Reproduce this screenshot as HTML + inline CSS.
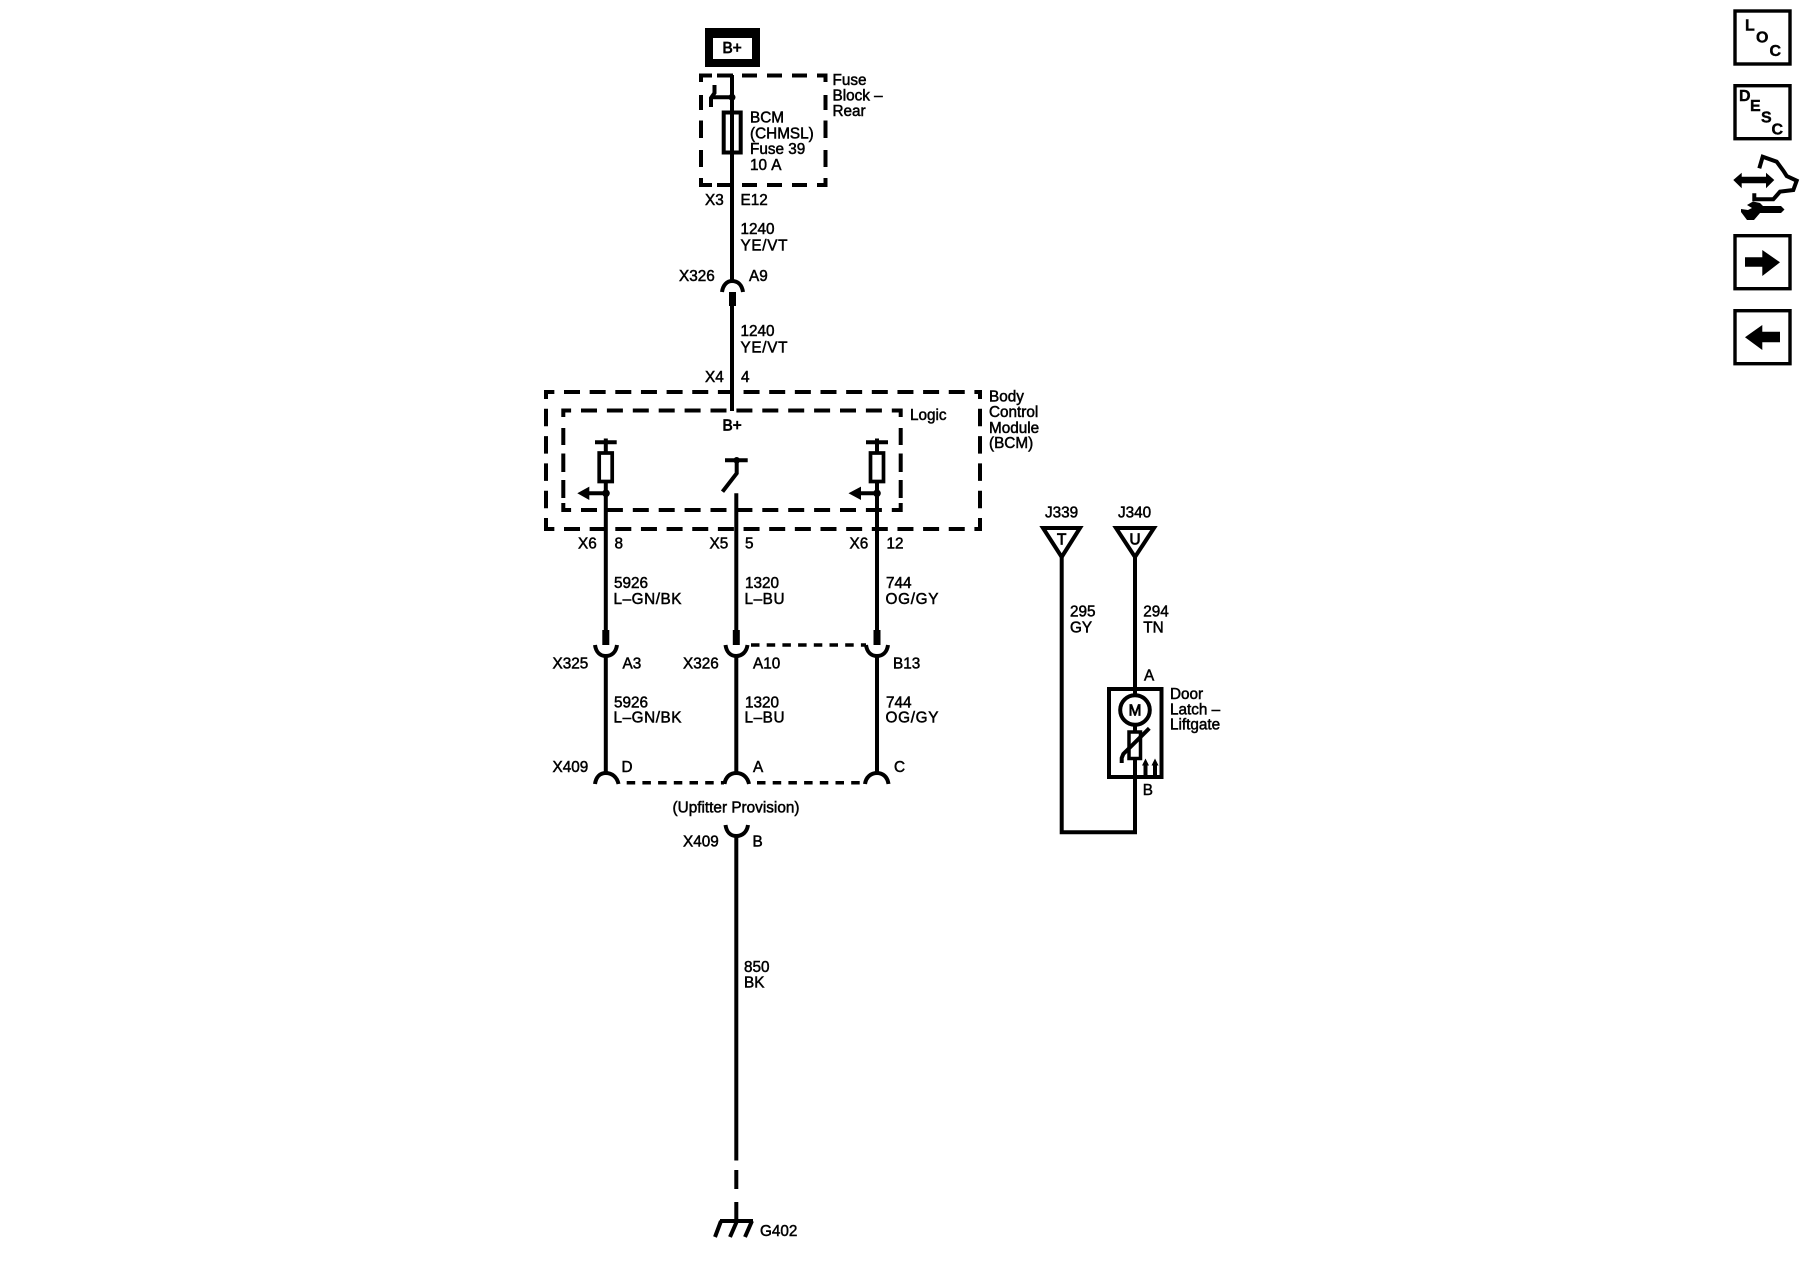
<!DOCTYPE html>
<html><head><meta charset="utf-8"><style>
html,body{margin:0;padding:0;background:#fff}
svg{display:block}
text{font-family:"Liberation Sans",sans-serif;font-size:15.3px;font-kerning:none;fill:#000;stroke:#000;stroke-width:.5}
.b{stroke-width:.8}
.i{font-weight:bold;font-size:16px;stroke-width:.4}
.w{stroke:#000;stroke-width:4;fill:none}
.dh{stroke:#000;stroke-width:4;fill:none;stroke-dasharray:16 9.65;stroke-dashoffset:5.65}
.di{stroke:#000;stroke-width:4;fill:none;stroke-dasharray:16 9.9;stroke-dashoffset:6.4}
.dv{stroke:#000;stroke-width:4;fill:none;stroke-dasharray:17.5 9.8;stroke-dashoffset:8.5}
.s{stroke:#000;stroke-width:3.500;fill:none;stroke-dasharray:8.500 7.200}
.t{stroke:#000;stroke-width:7;fill:none}
.f{fill:#000;stroke:none}
</style></head><body>
<svg width="1800" height="1280" viewBox="0 0 1800 1280" xmlns="http://www.w3.org/2000/svg">
<!-- B+ box -->
<rect x="705" y="28" width="55" height="39" fill="#000"/>
<rect x="713" y="38" width="39" height="21" fill="#fff"/>
<text class="b" x="722.5" y="53">B+</text>
<!-- Fuse block dashed -->
<path class="w" d="M699 75.500H712M717 75.500H733M742 75.500H757M767 75.500H782M792 75.500H807M817 75.500H827M699 185H712M717 185H733M742 185H757M767 185H782M792 185H807M817 185H827"/>
<path class="w" d="M701 73.500V82M701 95V110M701 120.500V138M701 150V167M701 178V187M825.500 73.500V82M825.500 95V110M825.500 120.500V138M825.500 150V167M825.500 178V187"/>
<!-- main top wire -->
<path class="w" d="M732 75V281"/>
<path class="w" stroke-width="3.500" d="M732 97.300H711.500M714.500 85V93L711 98V107"/>
<circle cx="732" cy="97.300" r="3.500"/>
<rect x="723.700" y="112.500" width="17" height="40" fill="none" stroke="#000" stroke-width="4"/>
<path class="w" d="M722 292C723 285 727 281 732 281C738 281 742 285 743 292"/>
<path class="t" d="M732.500 292V306"/>
<path class="w" d="M732 306V411"/>
<text x="832.500" y="85">Fuse</text><text x="832.500" y="100.700">Block –</text><text x="832.500" y="116">Rear</text>
<text x="750" y="122.700">BCM</text><text x="750" y="138.500">(CHMSL)</text><text x="750" y="154">Fuse 39</text><text x="750" y="170">10 A</text>
<text x="705" y="205">X3</text><text x="740.500" y="205">E12</text>
<text x="740.500" y="234">1240</text><text x="740.500" y="250.700" textLength="47">YE/VT</text>
<text x="679" y="281">X326</text><text x="749" y="281">A9</text>
<text x="740.500" y="336">1240</text><text x="740.500" y="352.700" textLength="47">YE/VT</text>
<text x="705" y="382">X4</text><text x="741" y="382">4</text>
<!-- BCM dashed -->
<line class="dh" x1="544" y1="392" x2="982" y2="392"/>
<line class="dh" x1="544" y1="529" x2="982" y2="529"/>
<line class="dv" x1="546" y1="390" x2="546" y2="531"/>
<line class="dv" x1="980" y1="390" x2="980" y2="531"/>
<line class="di" x1="561.500" y1="410.500" x2="902.500" y2="410.500"/>
<line class="di" x1="561.500" y1="510" x2="902.500" y2="510"/>
<path class="w" d="M563.300 408.500V417M563.300 428V445M563.300 453.500V472M563.300 480V498M563.300 503V512M900.700 408.500V417M900.700 428V445M900.700 453.500V472M900.700 480V498M900.700 503V512"/>
<text class="b" x="722.500" y="430.700">B+</text>
<text x="910" y="420">Logic</text>
<text x="989" y="401.700">Body</text><text x="989" y="417">Control</text><text x="989" y="433">Module</text><text x="989" y="448">(BCM)</text>
<!-- left device -->
<path class="w" d="M595 442.300H616.700M605.800 438.500V452M605.800 483V630"/>
<rect x="599.200" y="453" width="13" height="28.500" fill="none" stroke="#000" stroke-width="3.700"/>
<circle cx="606" cy="493.300" r="3.800"/>
<path class="w" d="M605.800 493.300H588"/><path class="f" d="M577.300 493.300L589.300 486.600V500Z"/>
<!-- right device -->
<path class="w" d="M866 442.300H888M877 438.500V452M877 483V630"/>
<rect x="870.500" y="453" width="13" height="28.500" fill="none" stroke="#000" stroke-width="3.700"/>
<circle cx="877" cy="493.300" r="3.800"/>
<path class="w" d="M877 493.300H860"/><path class="f" d="M848.500 493.300L861 486.600V500Z"/>
<!-- switch -->
<path class="w" d="M725 460.300H747.700M736.700 460V473.300L722.500 491.700"/>
<circle cx="736.700" cy="460.300" r="3.300"/>
<path class="w" d="M736.300 493.300V630"/>
<text x="578" y="548.300">X6</text><text x="614.500" y="548.300">8</text>
<text x="709.500" y="548.300">X5</text><text x="745" y="548.300">5</text>
<text x="849.500" y="548.300">X6</text><text x="886.500" y="548.300">12</text>
<text x="614" y="588">5926</text><text x="613.500" y="604" textLength="68">L–GN/BK</text>
<text x="745" y="588">1320</text><text x="744.500" y="604" textLength="40">L–BU</text>
<text x="886" y="588">744</text><text x="885.500" y="604" textLength="53">OG/GY</text>
<!-- stubs -->
<path class="t" d="M605.800 630V645M736.300 630V645M877 630V645"/>
<!-- U connectors -->
<path class="w" d="M595 645C596 652 600 656 605.800 656C612 656 616 652 617 645"/>
<path class="w" d="M725.500 645C726.500 652 730.500 656 736.300 656C742 656 746.500 652 747.500 645"/>
<path class="w" d="M866 645C867 652 871 656 877 656C883 656 887 652 888 645"/>
<path class="w" d="M605.800 655V773M736.300 655V773M877 655V773"/>
<path class="s" d="M751 645H866"/>
<text x="552.500" y="668.300">X325</text><text x="622.500" y="668.300">A3</text>
<text x="683" y="668.300">X326</text><text x="753" y="668.300">A10</text><text x="893" y="668.300">B13</text>
<text x="614" y="707.300">5926</text><text x="613.500" y="722.700" textLength="68">L–GN/BK</text>
<text x="745" y="707.300">1320</text><text x="744.500" y="722.700" textLength="40">L–BU</text>
<text x="886" y="707.300">744</text><text x="885.500" y="722.700" textLength="53">OG/GY</text>
<text x="552.500" y="772">X409</text><text x="621.500" y="772">D</text><text x="753" y="772">A</text><text x="894" y="772">C</text>
<!-- arcs -->
<path class="w" d="M595 784C596 777 600 773 605.800 773C612 773 617 777 618.500 784"/>
<path class="w" d="M724.500 784C725.500 777 730 773 736.300 773C742.500 773 747.500 777 749 784"/>
<path class="w" d="M865 784C866 777 871 773 877 773C883 773 887.500 777 888.500 784"/>
<path class="s" d="M626.700 782.700H724M757 782.700H864"/>
<text x="672.500" y="812.700" textLength="127">(Upfitter Provision)</text>
<path class="w" d="M725.500 825C726.500 832 730.500 836 736.300 836C742.500 836 747 832 748 825"/>
<text x="683" y="846.700">X409</text><text x="752.500" y="846.700">B</text>
<path class="w" d="M736.300 835V1160.500M736.300 1170V1189M736.300 1202V1219"/>
<text x="744" y="972">850</text><text x="744" y="987.500">BK</text>
<!-- ground -->
<path class="w" d="M720 1221H753M721 1221L715 1237M737 1221L730 1237M752 1221L745 1237"/>
<text x="760" y="1236">G402</text>
<!-- right diagram -->
<text x="1045" y="517.300">J339</text><text x="1118" y="517.300">J340</text>
<path class="w" stroke-width="3.500" d="M1043 528H1080L1061.700 557ZM1116 528H1154L1135 557Z"/>
<text class="b" x="1061.700" y="544.300" text-anchor="middle">T</text>
<text class="b" x="1135" y="544.300" text-anchor="middle">U</text>
<path class="w" d="M1061.700 557V832.300H1135V760M1135 557V694"/>
<text x="1070" y="616.700">295</text><text x="1070" y="632.300">GY</text>
<text x="1143.300" y="616.700">294</text><text x="1143.300" y="632.300">TN</text>
<text x="1144" y="680.700">A</text><text x="1142.700" y="795">B</text>
<text x="1170" y="699">Door</text><text x="1170" y="714.700">Latch –</text><text x="1170" y="729.300">Liftgate</text>
<rect x="1109" y="689" width="52.500" height="88" fill="none" stroke="#000" stroke-width="4"/>
<circle cx="1135" cy="710" r="14.800" fill="#fff" stroke="#000" stroke-width="4"/>
<text class="b" x="1135" y="715.500" text-anchor="middle">M</text>
<path class="w" d="M1135 724V732"/>
<rect x="1129" y="732" width="11.500" height="26.500" fill="none" stroke="#000" stroke-width="3.500"/>
<path class="w" stroke-width="3.300" d="M1149.300 728.300L1123.300 754L1121.700 758V763"/>
<path class="w" stroke-width="2.500" d="M1145.500 776V764M1155 776V764"/>
<path class="f" d="M1145.500 758.500L1142 765.500H1149ZM1155 758.500L1151.500 765.500H1158.500Z"/>
<!-- icons -->
<g fill="none" stroke="#000" stroke-width="3.400">
<rect x="1735" y="11" width="55" height="53"/><rect x="1735" y="85.700" width="55" height="53"/>
<rect x="1735" y="235.700" width="55" height="53"/><rect x="1735" y="310.700" width="55" height="53"/>
</g>
<text class="i" x="1745" y="30.700">L</text><text class="i" x="1756" y="42.700">O</text><text class="i" x="1769.500" y="56">C</text>
<text class="i" x="1739" y="101">D</text><text class="i" x="1750" y="111">E</text><text class="i" x="1761" y="122.700">S</text><text class="i" x="1771.500" y="134.300">C</text>
<path class="f" d="M1733.300 180L1741.700 172.700V176.700H1766V172.700L1774.300 180L1766 188.300V183.300H1741.700V188.300Z"/>
<path class="w" stroke-width="4.500" d="M1759.300 168.300L1762.700 156.700L1776.700 161.700L1783.300 170.700L1786.700 176L1796.700 180.700L1793.300 190L1780 191.700L1773.300 199.300H1754.300V193.300"/>
<path class="f" d="M1747 205L1753 201.500L1760 203L1763 206H1781L1784.500 209.500L1781 213H1760L1754 220H1747L1741 212V209L1748 210L1752 208Z"/>
<path class="f" d="M1745 257.300H1762.300V250L1780 262.300L1762.300 276V266.700H1745Z"/>
<path class="f" d="M1745 337.300L1762.300 325V331.700H1780V342.300H1762.300V350Z"/>
</svg>
</body></html>
